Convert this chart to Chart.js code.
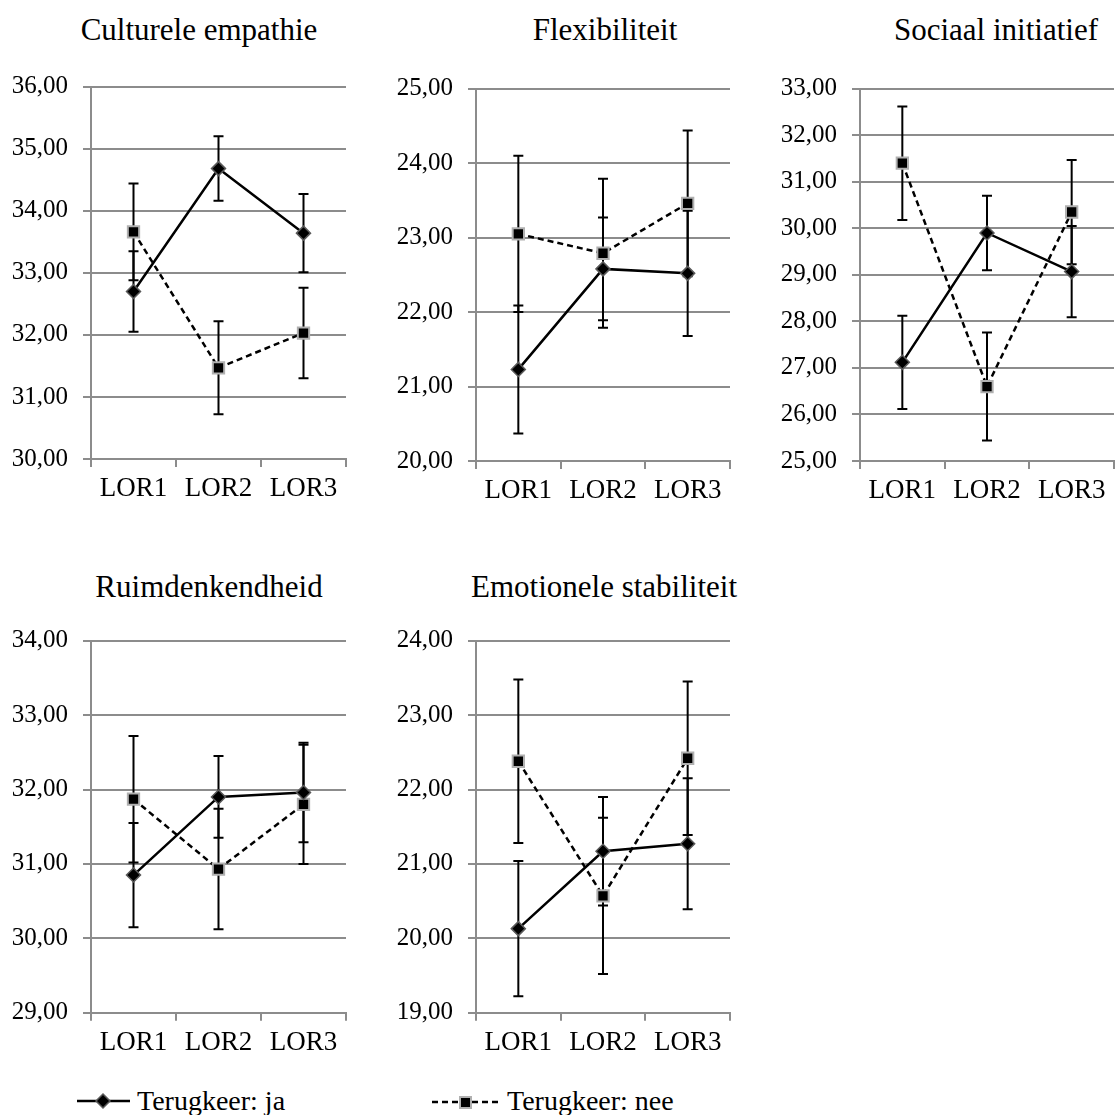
<!DOCTYPE html>
<html>
<head>
<meta charset="utf-8">
<script src="https://cdn.jsdelivr.net/npm/chart.js@4.4.1/dist/chart.umd.min.js"></script>
<style>
html, body { margin: 0; padding: 0; background: #fff; }
#page { position: relative; width: 1119px; height: 1115px; overflow: hidden; }
#page canvas { position: absolute; }
.ttl { position: absolute; width: 400px; text-align: center; font-family: "Liberation Serif"; font-size: 31px; line-height: 36px; color: #000; white-space: nowrap; }
.leg { position: absolute; font-family: "Liberation Serif"; font-size: 28px; line-height: 32px; color: #000; white-space: nowrap; }
.sw { position: absolute; }
</style>
</head>
<body>
<div id="page">
  <svg class="sw" style="left:77px;top:1091px" width="56" height="20">
    <line x1="0" y1="10" x2="53" y2="10" stroke="#000" stroke-width="2.5"/>
    <polygon points="26,3 33,10 26,17 19,10" fill="#000" stroke="#5a5a5a" stroke-width="1.5"/>
  </svg>
  <div class="leg" style="left:137px;top:1085px">Terugkeer: ja</div>
  <svg class="sw" style="left:432px;top:1093px" width="70" height="20">
    <line x1="0" y1="9" x2="66" y2="9" stroke="#000" stroke-width="2.5" stroke-dasharray="6,4"/>
    <rect x="28" y="4" width="11" height="11" fill="#000" stroke="#b0b0b0" stroke-width="2"/>
  </svg>
  <div class="leg" style="left:507px;top:1085px">Terugkeer: nee</div>
</div>
<script>
// ======================
// DATA
// ======================
const categories = ["LOR1", "LOR2", "LOR3"];
const titles = ["Culturele empathie", "Flexibiliteit", "Sociaal initiatief", "Ruimdenkendheid", "Emotionele stabiliteit"];
const yMin = [30, 20, 25, 29, 19];
const yMax = [36, 25, 33, 34, 24];

// Terugkeer: ja (means and error bar half-widths)
const jaMeans  = [[32.70, 34.68, 33.64], [21.23, 22.58, 22.52], [27.12, 29.90, 29.07], [30.85, 31.90, 31.96], [20.13, 21.17, 21.27]];
const jaErrors = [[0.65, 0.52, 0.63], [0.86, 0.69, 0.84], [1.00, 0.80, 0.98], [0.70, 0.55, 0.67], [0.91, 0.73, 0.88]];

// Terugkeer: nee
const neeMeans  = [[33.66, 31.47, 32.03], [23.05, 22.79, 23.46], [31.40, 26.60, 30.35], [31.87, 30.93, 31.80], [22.38, 20.57, 22.42]];
const neeErrors = [[0.78, 0.75, 0.73], [1.05, 1.00, 0.98], [1.22, 1.16, 1.12], [0.85, 0.81, 0.80], [1.10, 1.05, 1.03]];

// ======================
// LAYOUT (where each small chart sits on the page)
// ======================
const frames = [
  { left: 0,   top: 0,   width: 356, height: 520, plotTop: 86.7, xHeight: 61,   titleX: 199, titleTop: 11.5 },
  { left: 385, top: 0,   width: 355, height: 520, plotTop: 88.7, xHeight: 59,   titleX: 605, titleTop: 11.5 },
  { left: 769, top: 0,   width: 355, height: 520, plotTop: 88.7, xHeight: 59,   titleX: 996, titleTop: 11.5 },
  { left: 0,   top: 550, width: 356, height: 510, plotTop: 90.7, xHeight: 47.3, titleX: 209, titleTop: 569 },
  { left: 385, top: 550, width: 355, height: 510, plotTop: 90.7, xHeight: 47.3, titleX: 604, titleTop: 569 }
];

const FONT = "Liberation Serif";
const GRID = "#8c8c8c";

// error bars drawn from each dataset's "errors" array
const errorBars = {
  id: "errorBars",
  beforeDatasetsDraw(chart) {
    const ctx = chart.ctx;
    const y = chart.scales.y;
    ctx.save();
    ctx.strokeStyle = "#000";
    ctx.lineWidth = 2;
    chart.data.datasets.forEach((ds, di) => {
      const meta = chart.getDatasetMeta(di);
      meta.data.forEach((pt, j) => {
        const hi = y.getPixelForValue(ds.data[j] + ds.errors[j]);
        const lo = y.getPixelForValue(ds.data[j] - ds.errors[j]);
        const x = pt.x;
        ctx.beginPath();
        ctx.moveTo(x, hi); ctx.lineTo(x, lo);
        ctx.moveTo(x - 5, hi); ctx.lineTo(x + 5, hi);
        ctx.moveTo(x - 5, lo); ctx.lineTo(x + 5, lo);
        ctx.stroke();
      });
    });
    ctx.restore();
  }
};

const page = document.getElementById("page");

frames.forEach((f, i) => {
  const title = document.createElement("div");
  title.className = "ttl";
  title.textContent = titles[i];
  title.style.left = (f.titleX - 200) + "px";
  title.style.top = f.titleTop + "px";
  page.appendChild(title);

  const canvas = document.createElement("canvas");
  canvas.width = f.width;
  canvas.height = f.height;
  canvas.style.left = f.left + "px";
  canvas.style.top = f.top + "px";
  page.appendChild(canvas);

  new Chart(canvas, {
    type: "line",
    data: {
      labels: categories,
      datasets: [
        {
          label: "Terugkeer: ja",
          data: jaMeans[i],
          errors: jaErrors[i],
          borderColor: "#000",
          borderWidth: 2.5,
          pointStyle: "rectRot",
          pointRadius: 7,
          pointBackgroundColor: "#000",
          pointBorderColor: "#5a5a5a",
          pointBorderWidth: 1.5
        },
        {
          label: "Terugkeer: nee",
          data: neeMeans[i],
          errors: neeErrors[i],
          borderColor: "#000",
          borderWidth: 2.5,
          borderDash: [6, 4],
          pointStyle: "rect",
          pointRadius: 8,
          pointBackgroundColor: "#000",
          pointBorderColor: "#b0b0b0",
          pointBorderWidth: 2
        }
      ]
    },
    options: {
      responsive: false,
      animation: false,
      devicePixelRatio: 1,
      layout: { padding: { left: 0, right: 5, top: f.plotTop, bottom: 0 } },
      plugins: {
        legend: { display: false },
        tooltip: { enabled: false },
        title: { display: false }
      },
      scales: {
        x: {
          offset: true,
          grid: { offset: true, drawOnChartArea: false, tickLength: 8, color: GRID, lineWidth: 2 },
          border: { color: GRID, width: 2 },
          ticks: { color: "#000", font: { family: FONT, size: 27 }, padding: 6, maxRotation: 0, autoSkip: false },
          afterFit(s) { s.height = f.xHeight; }
        },
        y: {
          min: yMin[i],
          max: yMax[i],
          grid: { tickLength: 8, color: GRID, lineWidth: 2 },
          border: { color: GRID, width: 2 },
          ticks: {
            stepSize: 1,
            color: "#000",
            font: { family: FONT, size: 25 },
            padding: 15,
            callback: v => v.toFixed(2).replace(".", ",")
          },
          afterFit(s) { s.width = 91; }
        }
      }
    },
    plugins: [errorBars]
  });
});
</script>
</body>
</html>
